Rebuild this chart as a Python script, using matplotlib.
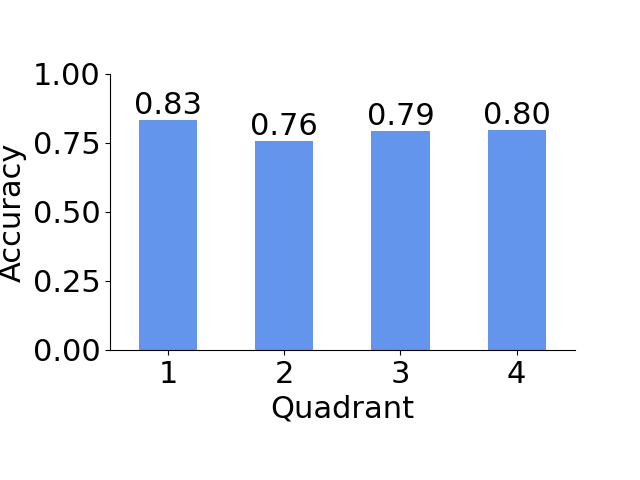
import matplotlib
matplotlib.use('Agg')
import matplotlib.pyplot as plt

quadrants = [1, 2, 3, 4]
accuracy = [0.834, 0.756, 0.793, 0.798]


def main():
    plt.rcParams['font.size'] = 22
    fig = plt.figure(figsize=(6.4, 4.8), dpi=100)
    ax = fig.add_axes([0.172, 0.271, 0.726, 0.575])
    ax.bar(quadrants, accuracy, width=0.5, color='cornflowerblue')
    for q, a in zip(quadrants, accuracy):
        ax.text(q, a, '%.2f' % a, ha='center', va='bottom', fontsize=22)
    ax.set_xlim(0.5, 4.5)
    ax.set_ylim(0, 1)
    ax.set_yticks([0, 0.25, 0.5, 0.75, 1.0])
    ax.set_xticks(quadrants)
    ax.set_xlabel('Quadrant')
    ax.set_ylabel('Accuracy')
    ax.spines['top'].set_visible(False)
    ax.spines['right'].set_visible(False)
    fig.savefig('out.png')


if __name__ == '__main__':
    main()
